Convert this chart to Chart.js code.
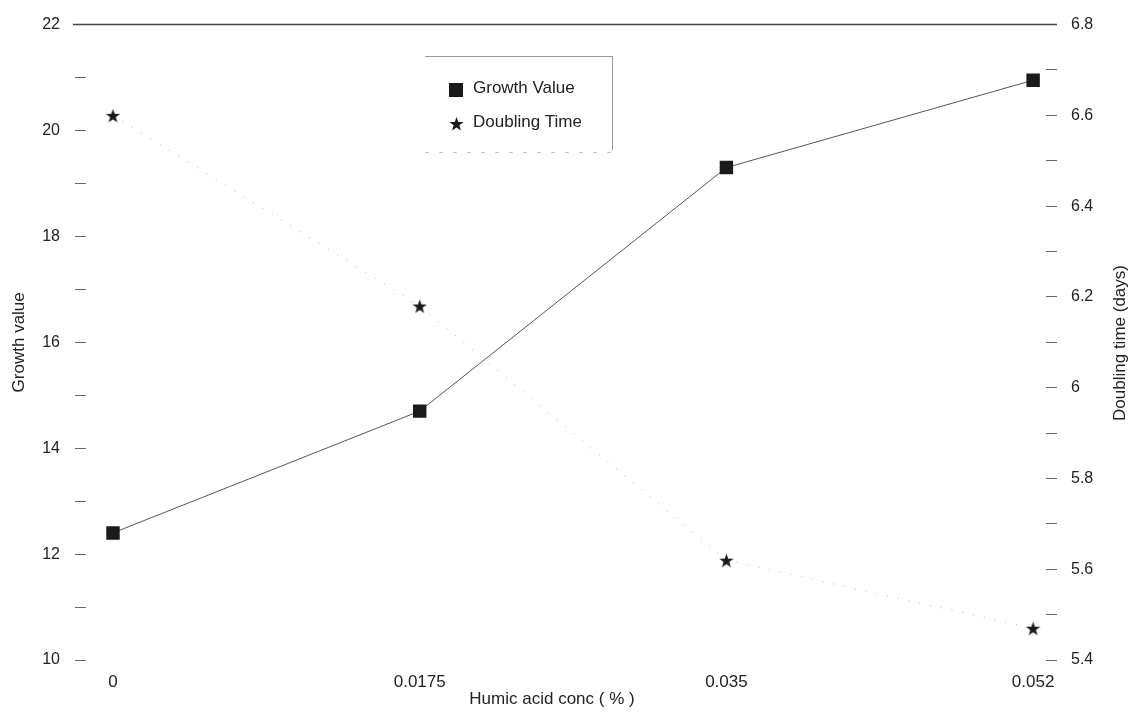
<!DOCTYPE html>
<html>
<head>
<meta charset="utf-8">
<script src="https://cdn.jsdelivr.net/npm/chart.js@4/dist/chart.umd.min.js"></script>
<style>
html,body{margin:0;padding:0;background:#fff;}
#wrap{width:1130px;height:714px;position:relative;}
</style>
</head>
<body>
<div id="wrap"><canvas id="c"></canvas></div>
<script>
const categories = ['0', '0.0175', '0.035', '0.052'];
const growthValue = [12.4, 14.7, 19.3, 20.95];
const doublingTime = [6.6, 6.18, 5.62, 5.47];
const leftTicks = [10, 12, 14, 16, 18, 20, 22];
const rightTicks = [5.4, 5.6, 5.8, 6, 6.2, 6.4, 6.6, 6.8];

const FONT = '"Liberation Sans", Arial, sans-serif';
const INK = '#222';

function makeStar(size, color) {
  const c = document.createElement('canvas');
  c.width = c.height = size;
  const g = c.getContext('2d');
  g.fillStyle = color;
  g.beginPath();
  for (let i = 0; i < 10; i++) {
    const r = i % 2 ? size * 0.2 : size * 0.5;
    const a = -Math.PI / 2 + i * Math.PI / 5;
    g.lineTo(size / 2 + r * Math.cos(a), size / 2 + size * 0.06 + r * Math.sin(a));
  }
  g.closePath();
  g.fill();
  return c;
}
const starImg = makeStar(15, '#1a1a1a');

const extras = {
  id: 'extras',
  beforeDatasetsDraw(chart) {
    const ctx = chart.ctx;
    const a = chart.chartArea;
    ctx.save();
    ctx.strokeStyle = '#444';
    ctx.lineWidth = 1.5;
    ctx.beginPath();
    ctx.moveTo(a.left - 13, a.top);
    ctx.lineTo(a.right + 11, a.top);
    ctx.stroke();
    ctx.restore();
  },
  afterDraw(chart) {
    const ctx = chart.ctx;
    ctx.save();
    // legend frame
    ctx.strokeStyle = '#999';
    ctx.lineWidth = 1;
    ctx.beginPath();
    ctx.moveTo(425, 56.5); ctx.lineTo(612.5, 56.5); ctx.lineTo(612.5, 150);
    ctx.stroke();
    ctx.strokeStyle = '#ccc';
    ctx.setLineDash([4, 10]);
    ctx.beginPath();
    ctx.moveTo(425, 152.5); ctx.lineTo(612.5, 152.5);
    ctx.stroke();
    ctx.setLineDash([]);
    // legend items
    ctx.fillStyle = '#1a1a1a';
    ctx.fillRect(449, 83, 14, 14);
    ctx.drawImage(starImg, 449, 116);
    ctx.fillStyle = INK;
    ctx.font = '17px ' + FONT;
    ctx.textBaseline = 'middle';
    ctx.textAlign = 'left';
    ctx.fillText(chart.data.datasets[0].label, 473, 88);
    ctx.fillText(chart.data.datasets[1].label, 473, 122);
    // x axis title
    ctx.textAlign = 'center';
    ctx.fillText('Humic acid conc ( % )', 552, 699);
    // right axis title (reads bottom to top)
    ctx.translate(1120, 343);
    ctx.rotate(-Math.PI / 2);
    ctx.fillText('Doubling time (days)', 0, 0);
    ctx.restore();
  }
};

new Chart(document.getElementById('c'), {
  type: 'line',
  data: {
    datasets: [
      {
        label: 'Growth Value',
        data: growthValue.map((v, i) => ({ x: i, y: v })),
        yAxisID: 'y',
        borderColor: '#555',
        borderWidth: 1,
        pointStyle: 'rect',
        pointRadius: 9.5,
        pointBackgroundColor: '#1a1a1a',
        pointBorderColor: '#1a1a1a',
        pointBorderWidth: 0,
        tension: 0
      },
      {
        label: 'Doubling Time',
        data: doublingTime.map((v, i) => ({ x: i, y: v })),
        yAxisID: 'y1',
        borderColor: '#aaa',
        borderWidth: 1,
        borderDash: [1, 10],
        pointStyle: starImg,
        pointRadius: 7,
        tension: 0
      }
    ]
  },
  options: {
    responsive: true,
    maintainAspectRatio: false,
    animation: false,
    layout: { padding: { top: 23, right: 0, bottom: 0, left: 0 } },
    plugins: { legend: { display: false }, tooltip: { enabled: false } },
    scales: {
      x: {
        type: 'linear',
        min: -0.088,
        max: 3.042,
        afterBuildTicks: s => { s.ticks = categories.map((c, i) => ({ value: i })); },
        afterFit: s => { s.height = 54; },
        grid: { display: false },
        border: { display: false },
        ticks: {
          callback: v => categories[v],
          font: { family: FONT, size: 17 },
          color: INK,
          padding: 4,
          maxRotation: 0
        }
      },
      y: {
        position: 'left',
        min: 10,
        max: 22,
        afterBuildTicks: s => {
          const t = [];
          for (let v = 10; v <= 22; v++) t.push({ value: v });
          s.ticks = t;
        },
        afterFit: s => { s.width = 86; },
        grid: { drawOnChartArea: false, tickLength: 11, color: '#666', tickWidth: 1 },
        border: { display: false },
        ticks: {
          callback: v => leftTicks.includes(v) ? String(v) : '',
          font: { family: FONT, size: 16 },
          color: INK,
          padding: 15,
          autoSkip: false
        },
        title: {
          display: true,
          text: 'Growth value',
          font: { family: FONT, size: 17 },
          color: INK,
          padding: { top: 9, bottom: 0 }
        }
      },
      y1: {
        position: 'right',
        min: 5.4,
        max: 6.8,
        afterBuildTicks: s => {
          const t = [];
          for (let k = 54; k <= 68; k++) t.push({ value: k / 10 });
          s.ticks = t;
        },
        afterFit: s => { s.width = 84; },
        grid: { drawOnChartArea: false, tickLength: 11, color: '#666', tickWidth: 1 },
        border: { display: false },
        ticks: {
          callback: v => {
            const m = rightTicks.find(r => Math.abs(r - v) < 1e-6);
            return m !== undefined ? (m === 6 ? '6' : m.toFixed(1)) : '';
          },
          font: { family: FONT, size: 16 },
          color: INK,
          padding: 14,
          autoSkip: false
        }
      }
    }
  },
  plugins: [extras]
});
</script>
</body>
</html>
